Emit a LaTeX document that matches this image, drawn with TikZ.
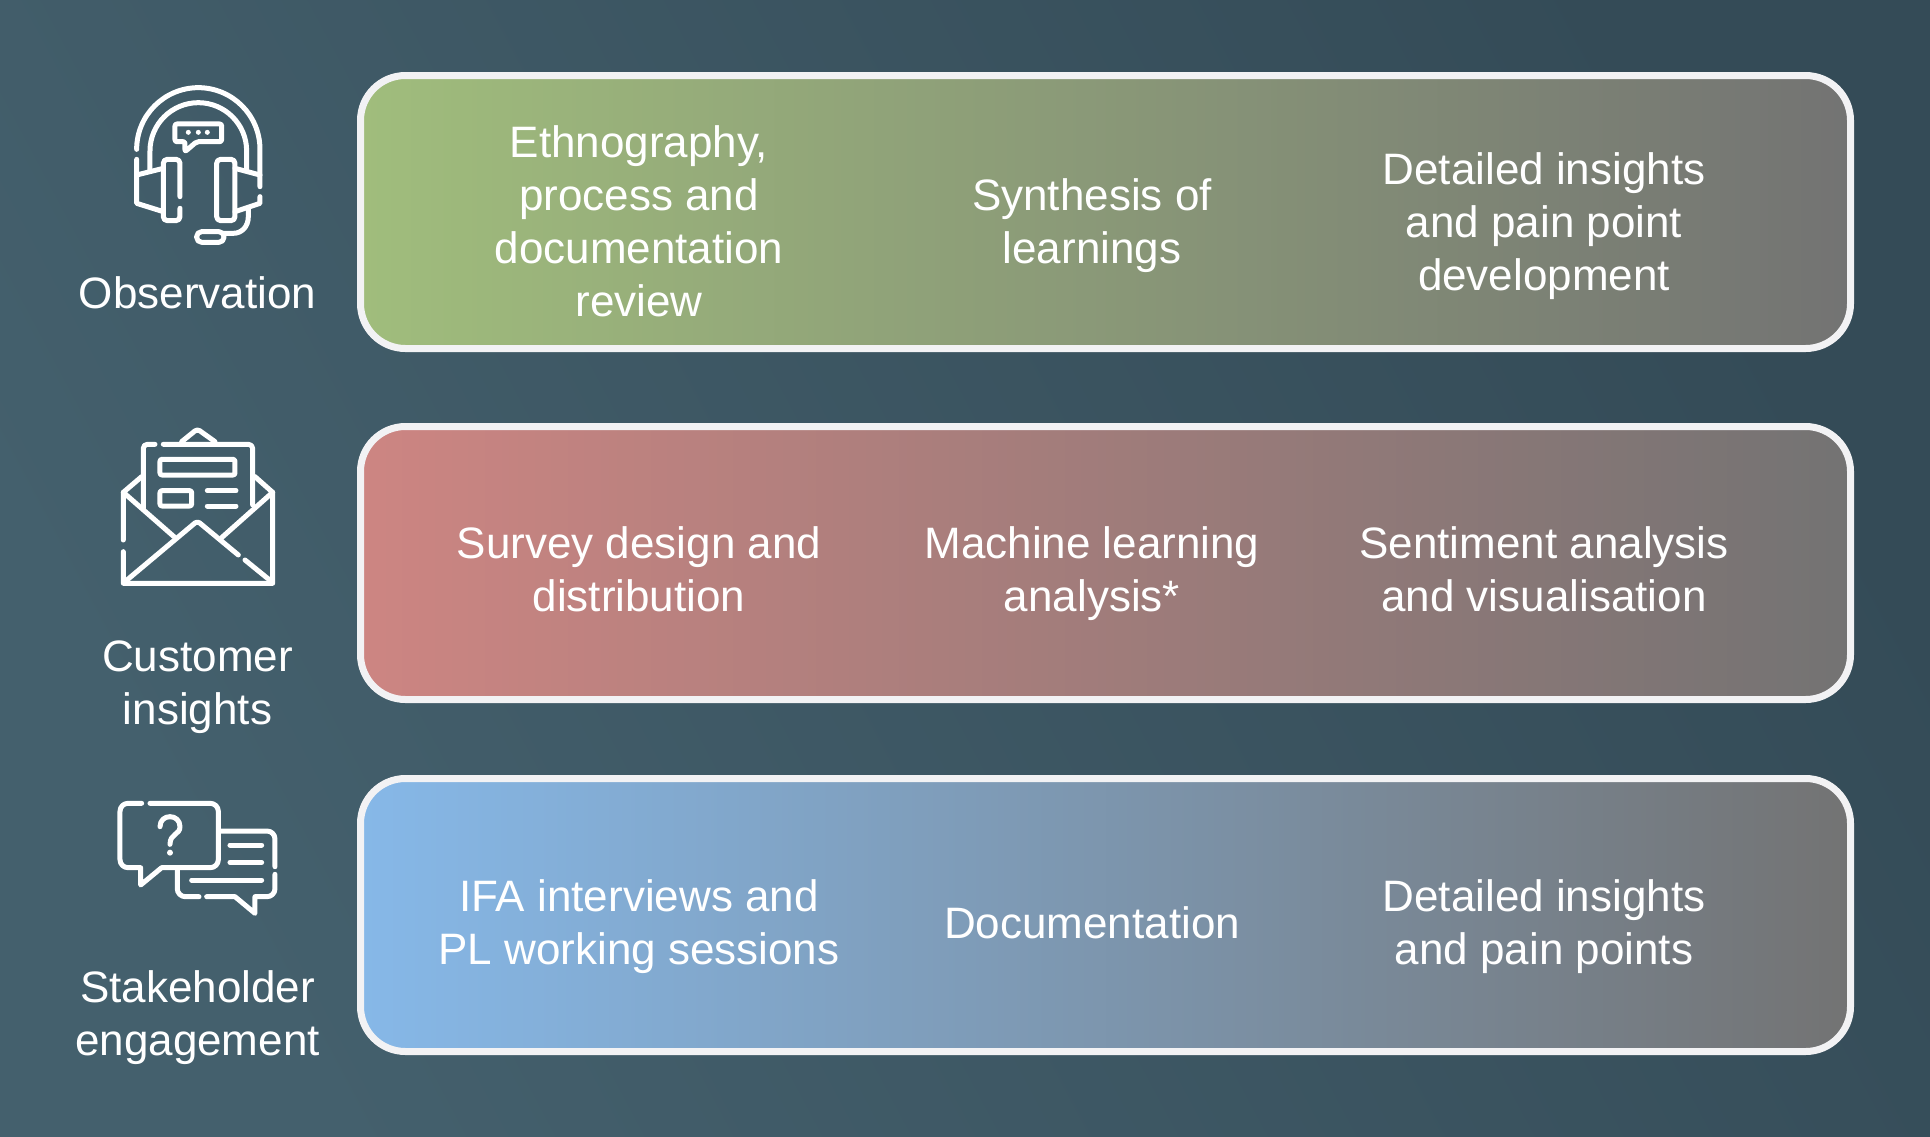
\documentclass[tikz,border=0pt]{standalone}
\usepackage{fontspec}
\setmainfont{Liberation Sans}
\definecolor{bgA}{RGB}{68,96,109}
\definecolor{bgB}{RGB}{52,75,87}
\definecolor{edge}{RGB}{242,242,244}
\definecolor{greenL}{RGB}{160,189,124}
\definecolor{redL}{RGB}{205,133,130}
\definecolor{blueL}{RGB}{134,184,232}
\definecolor{grayR}{RGB}{115,115,115}
\tikzset{
 rowbox/.style={draw=edge,line width=7pt,rounded corners=45pt,minimum width=1490pt,minimum height=273pt,inner sep=0pt,shading angle=90,right color=grayR},
 txt/.style={text=white,align=center,font=\fontsize{44}{53}\selectfont,inner sep=0pt},
 ico/.style={draw=white,line width=5pt,line cap=round,line join=round},
 icoscale/.style={x=0.3333pt,y=-0.3333pt}
}
\begin{document}
\begin{tikzpicture}[x=1pt,y=-1pt]
\useasboundingbox (0,0) rectangle (1930,1136);
\shade[shading=axis,bottom color=bgB,top color=bgA,shading angle=118] (0,0) rectangle (1930,1136);
\node[rowbox,left color=greenL] (r1) at (1105.5,212) {};
\node[rowbox,left color=redL] (r2) at (1105.5,563) {};
\node[rowbox,left color=blueL] (r3) at (1105.5,915) {};
% row 1
\node[txt] (a1) at (639,226.5) {\strut Ethnography,\\process and\\documentation\\review\strut};
\node[txt] (a2) at (1092,226.5) {\strut Synthesis of\\learnings\strut};
\node[txt] (a3) at (1544,226.5) {\strut Detailed insights\\and pain point\\development\strut};
% row 2
\node[txt] (b1) at (639,574) {\strut Survey design and\\distribution\strut};
\node[txt] (b2) at (1092,574) {\strut Machine learning\\analysis*\strut};
\node[txt] (b3) at (1544,574) {\strut Sentiment analysis\\and visualisation\strut};
% row 3
\node[txt] (c1) at (639,927.5) {\strut IFA interviews and\\PL working sessions\strut};
\node[txt] (c2) at (1092,927.5) {\strut Documentation};
\node[txt] (c3) at (1544,927.5) {\strut Detailed insights\\and pain points\strut};
% labels
\node[txt] (l1) at (197.5,298) {\strut Observation};
\node[txt] (l2) at (197.5,687.5) {\strut Customer\\insights\strut};
\node[txt] (l3) at (197.5,1018.5) {\strut Stakeholder\\engagement\strut};
% headset
\begin{scope}[shift={(100,70)},icoscale]
\draw[ico] (110,238) arc[start angle=180,end angle=360,radius=185] -- (480,350);
\draw[ico] (150,300) -- (150,243) arc[start angle=180,end angle=360,radius=145] -- (440,300);
\draw[ico,rounded corners=4pt] (240,380) -- (240,268) -- (190,268) -- (190,452) -- (240,452) -- (240,415);
\draw[ico,rounded corners=4pt] (350,268) rectangle (405,452);
\draw[ico] (110,268) -- (110,400) -- (190,425);
\draw[ico] (110,315) -- (190,295);
\draw[ico] (405,295) -- (480,315);
\draw[ico] (480,380) -- (480,400) -- (405,425);
\draw[ico] (445,415) -- (445,440) .. controls (445,470) and (425,490) .. (400,490) -- (372,490);
\draw[ico,rounded corners=5pt] (290,485) rectangle (372,517);
\draw[ico,rounded corners=2pt] (225,162) -- (365,162) -- (365,215) -- (290,215) -- (255,245) -- (255,215) -- (225,215) -- cycle;
\fill[white] (265,187) circle[radius=7.5] (295,187) circle[radius=7.5] (322,187) circle[radius=7.5];
\end{scope}
% envelope
\begin{scope}[shift={(100,415)},icoscale]
\draw[ico,rounded corners=4pt] (165,88) -- (130,88) -- (130,280);
\draw[ico,rounded corners=4pt] (190,88) -- (458,88) -- (458,270);
\draw[ico,rounded corners=3pt] (245,80) -- (292,42) -- (345,80);
\draw[ico,rounded corners=2pt] (180,133) rectangle (405,180);
\draw[ico,rounded corners=2pt] (180,227) rectangle (275,273);
\draw[ico] (322,227) -- (408,227) (322,273) -- (408,273);
\draw[ico] (125,185) -- (70,232) -- (70,375);
\draw[ico] (70,410) -- (70,505) -- (518,505) -- (518,232) -- (465,185);
\draw[ico] (70,232) -- (222,365);
\draw[ico] (518,232) -- (365,368);
\draw[ico,rounded corners=3pt] (75,500) -- (292,318) -- (415,420);
\draw[ico] (435,435) -- (515,500);
\end{scope}
% chat
\begin{scope}[shift={(100,785)},icoscale]
\draw[ico] (125,55) [rounded corners=8pt] -- (60,55) -- (60,248) [sharp corners] -- (122,248) -- (122,300) -- (185,248) [rounded corners=8pt] -- (355,248) -- (355,55) -- (150,55);
\draw[ico] (180,125) .. controls (180,85) and (240,85) .. (240,125) .. controls (240,150) and (210,145) .. (210,178);
\fill[white] (210,203) circle[radius=9];
\draw[ico,rounded corners=8pt] (360,138) -- (525,138) -- (525,245);
\draw[ico] (525,268) [rounded corners=8pt] -- (525,335) [sharp corners] -- (465,335) -- (465,385) -- (405,335) -- (320,335);
\draw[ico,rounded corners=8pt] (297,335) -- (232,335) -- (232,255);
\draw[ico] (390,180) -- (485,180) (390,232) -- (485,232) (275,285) -- (485,285);
\end{scope}
\end{tikzpicture}
\end{document}
